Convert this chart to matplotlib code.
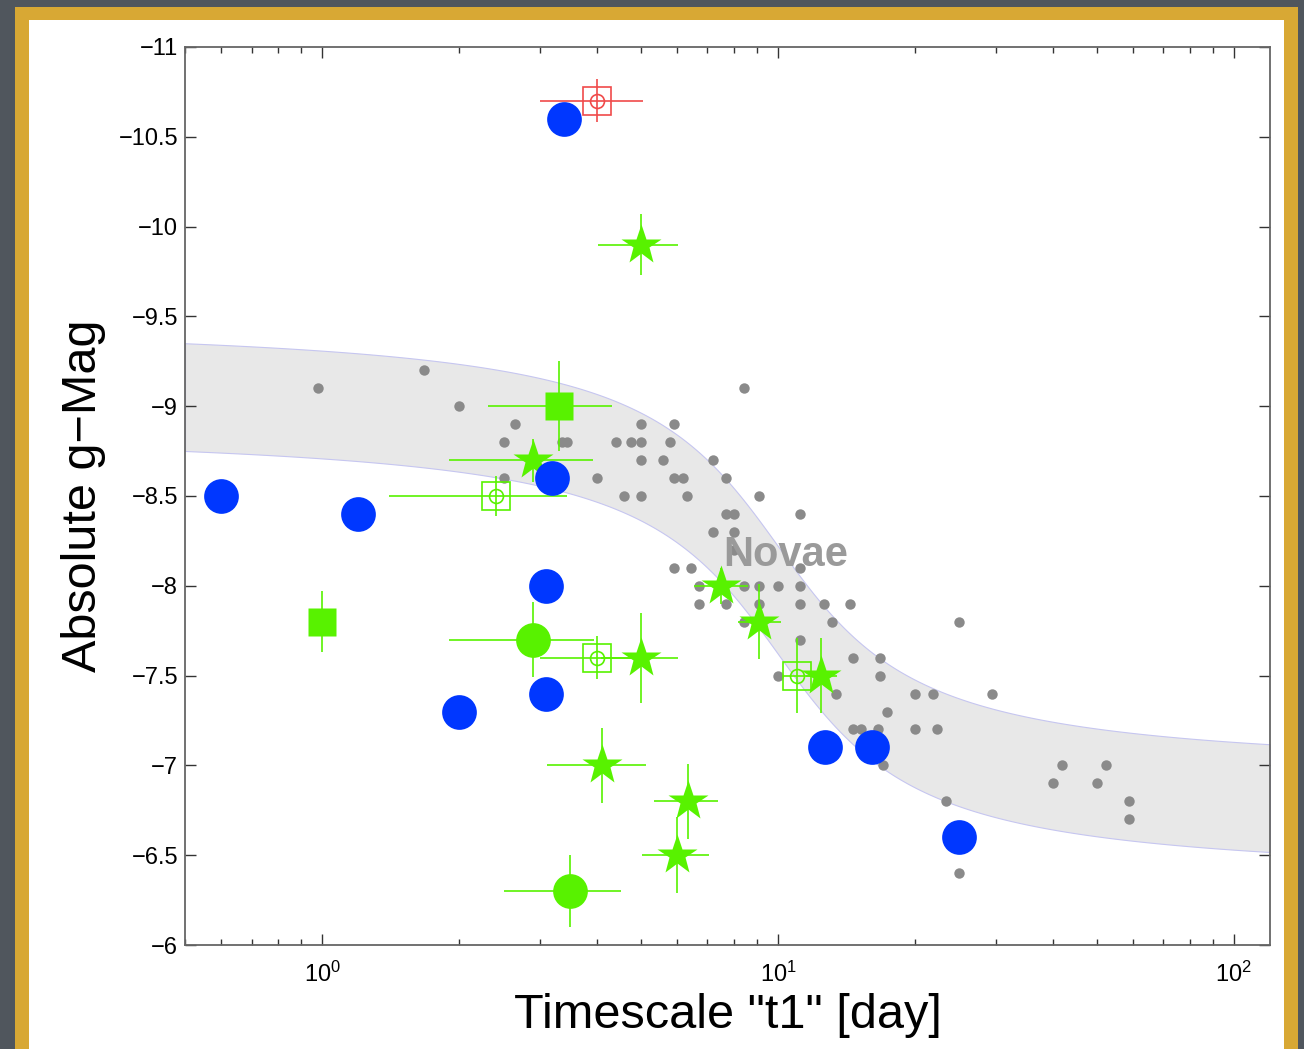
import numpy as np
import matplotlib
matplotlib.use("Agg")
import matplotlib.pyplot as plt
from matplotlib.patches import Rectangle
from matplotlib.ticker import LogLocator, FixedLocator, FixedFormatter, NullFormatter

plt.rcParams['font.family'] = ['Liberation Sans', 'DejaVu Sans']
plt.rcParams['mathtext.fontset'] = 'custom'
plt.rcParams['mathtext.rm'] = 'Liberation Sans'
plt.rcParams['mathtext.it'] = 'Liberation Sans:italic'
plt.rcParams['mathtext.bf'] = 'Liberation Sans:bold'

# ---------------- data ----------------
# MMRD-like relation band (centre +- half width)
band_a, band_b, band_c, band_d, band_half = -7.92, 0.81, 1.0, 0.23, 0.3

# Galactic/M31 novae (grey dots)
nova_t = [0.98, 8.4, 1.67, 2.0, 2.65, 5.0, 5.9,
          2.5, 3.35, 3.45, 4.4, 4.75, 5.0, 5.8,
          5.0, 5.6, 7.2,
          2.5, 4.0, 5.9, 6.2, 7.7,
          4.6, 5.0, 6.3, 9.1,
          7.7, 8.0, 11.2,
          7.2, 8.0, 8.0,
          5.9, 6.45, 11.2,
          6.7, 8.4, 9.1, 10.0, 11.2,
          6.7, 7.7, 9.1, 11.2, 12.6, 14.4,
          8.4, 13.1, 25.0,
          11.2,
          14.6, 16.7,
          10.0, 16.7,
          13.4, 20.0, 21.9, 29.5,
          17.3,
          14.6, 15.2, 16.6, 20.0, 22.3,
          17.0, 42.0, 52.5,
          40.0, 50.0,
          23.4, 59.0,
          59.0,
          25.0]
nova_m = [-9.1, -9.1, -9.2, -9.0, -8.9, -8.9, -8.9,
          -8.8, -8.8, -8.8, -8.8, -8.8, -8.8, -8.8,
          -8.7, -8.7, -8.7,
          -8.6, -8.6, -8.6, -8.6, -8.6,
          -8.5, -8.5, -8.5, -8.5,
          -8.4, -8.4, -8.4,
          -8.3, -8.3, -8.2,
          -8.1, -8.1, -8.1,
          -8.0, -8.0, -8.0, -8.0, -8.0,
          -7.9, -7.9, -7.9, -7.9, -7.9, -7.9,
          -7.8, -7.8, -7.8,
          -7.7,
          -7.6, -7.6,
          -7.5, -7.5,
          -7.4, -7.4, -7.4, -7.4,
          -7.3,
          -7.2, -7.2, -7.2, -7.2, -7.2,
          -7.0, -7.0, -7.0,
          -6.9, -6.9,
          -6.8, -6.8,
          -6.7,
          -6.4]

# Blue filled circles
blue_t = [3.4, 0.6, 1.2, 3.2, 3.1, 2.0, 3.1, 12.7, 16.1, 25.0]
blue_m = [-10.6, -8.5, -8.4, -8.6, -8.0, -7.3, -7.4, -7.1, -7.1, -6.6]

# Green stars
star_t = [5.0, 2.9, 7.5, 9.1, 12.4, 5.0, 4.1, 6.35, 6.0]
star_m = [-9.9, -8.7, -8.0, -7.8, -7.5, -7.6, -7.0, -6.8, -6.5]
star_tlo = [4.03, 1.90, 6.55, 8.17, 11.5, 4.09, 3.11, 5.34, 5.03]
star_thi = [6.04, 3.93, 8.58, 10.15, 13.5, 6.04, 5.13, 7.40, 7.06]
star_merr = [0.17, 0.12, 0.10, 0.21, 0.21, 0.25, 0.21, 0.21, 0.21]

# Green filled squares
sq_t = [3.3, 1.0]
sq_m = [-9.0, -7.8]
sq_tlo = [2.31, 1.0]
sq_thi = [4.33, 1.0]
sq_merr = [0.25, 0.17]

# Green filled circles
gc_t = [2.9, 3.5]
gc_m = [-7.7, -6.3]
gc_tlo = [1.90, 2.51]
gc_thi = [3.95, 4.52]
gc_merr = [0.21, 0.20]

# Green open square+circle
go_t = [2.4, 4.0, 11.0]
go_m = [-8.5, -7.6, -7.5]
go_tlo = [1.40, 3.0, 10.2]
go_thi = [3.45, 5.1, 12.0]
go_merr = [0.11, 0.12, 0.21]

# Red open square+circle
ro_t = [4.0]
ro_m = [-10.7]
ro_tlo = [3.0]
ro_thi = [5.06]
ro_merr = [0.12]

yticks = [-11, -10.5, -10, -9.5, -9, -8.5, -8, -7.5, -7, -6.5, -6]
ytick_labels = ['{:g}'.format(v).replace('-', '\u2212') for v in yticks]

# ---------------- figure / frame ----------------
W, H = 1304, 1049
fig = plt.figure(figsize=(W / 100, H / 100), dpi=100)
fig.patch.set_facecolor('#50565d')


def px_rect(x0, y0, x1, y1, color):
    fig.add_artist(Rectangle((x0 / W, 1 - y1 / H), (x1 - x0) / W, (y1 - y0) / H,
                             transform=fig.transFigure, facecolor=color,
                             edgecolor='none', zorder=-10))


px_rect(15, 7, 1298, H + 5, '#d8a834')
px_rect(29, 20, 1284, H + 5, 'white')

ax = fig.add_axes([185 / W, 1 - 945 / H, (1270 - 185) / W, (945 - 47) / H])
ax.set_facecolor('white')
ax.set_xscale('log')
ax.set_xlim(0.5, 120)
ax.set_ylim(-6, -11)

green = '#58f200'
blue = '#0037ff'
red = '#f04a4a'

# band
tt = np.logspace(np.log10(0.5), np.log10(120), 400)
centre = band_a - band_b * np.arctan((band_c - np.log10(tt)) / band_d)
ax.fill_between(tt, centre - band_half, centre + band_half, facecolor='#e8e8e8',
                edgecolor='#c6c6f0', linewidth=0.8, zorder=1)

# grey novae
ax.plot(nova_t, nova_m, 'o', color='#8a8a8a', ms=7.5, mec='none', zorder=2)

ax.text(10.4, -8.17, 'Novae', fontsize=30, fontweight='bold', color='#9a9a9a',
        ha='center', va='center', zorder=3)


def errs(t, lo, hi):
    t = np.array(t); lo = np.array(lo); hi = np.array(hi)
    return [t - lo, hi - t]


elw = 1.2
# red
ax.errorbar(ro_t, ro_m, xerr=errs(ro_t, ro_tlo, ro_thi), yerr=ro_merr, fmt='none',
            ecolor=red, elinewidth=elw, capsize=0, zorder=4)
ax.plot(ro_t, ro_m, 's', ms=20, mfc='none', mec=red, mew=1.2, zorder=5)
ax.plot(ro_t, ro_m, 'o', ms=10, mfc='none', mec=red, mew=1.2, zorder=5)

# green open
ax.errorbar(go_t, go_m, xerr=errs(go_t, go_tlo, go_thi), yerr=go_merr, fmt='none',
            ecolor=green, elinewidth=elw, capsize=0, zorder=4)
ax.plot(go_t, go_m, 's', ms=20, mfc='none', mec=green, mew=1.2, zorder=5)
ax.plot(go_t, go_m, 'o', ms=10, mfc='none', mec=green, mew=1.2, zorder=5)

# green stars
ax.errorbar(star_t, star_m, xerr=errs(star_t, star_tlo, star_thi), yerr=star_merr,
            fmt='none', ecolor=green, elinewidth=elw, capsize=0, zorder=4)
ax.plot(star_t, star_m, '*', ms=30, color=green, mec='none', zorder=5)

# green squares
ax.errorbar(sq_t, sq_m, xerr=errs(sq_t, sq_tlo, sq_thi), yerr=sq_merr,
            fmt='none', ecolor=green, elinewidth=elw, capsize=0, zorder=4)
ax.plot(sq_t, sq_m, 's', ms=19.5, color=green, mec='none', zorder=5)

# green circles
ax.errorbar(gc_t, gc_m, xerr=errs(gc_t, gc_tlo, gc_thi), yerr=gc_merr,
            fmt='none', ecolor=green, elinewidth=elw, capsize=0, zorder=4)
ax.plot(gc_t, gc_m, 'o', ms=25, color=green, mec='none', zorder=5)

# blue circles
ax.plot(blue_t, blue_m, 'o', ms=25, color=blue, mec='none', zorder=6)

# axes styling
ax.yaxis.set_major_locator(FixedLocator(yticks))
ax.yaxis.set_major_formatter(FixedFormatter(ytick_labels))
ax.xaxis.set_major_locator(LogLocator(base=10, numticks=10))
ax.xaxis.set_minor_locator(LogLocator(base=10, subs=np.arange(2, 10), numticks=20))
ax.xaxis.set_minor_formatter(NullFormatter())
ax.tick_params(which='both', direction='in', top=True, right=True, colors='#333333',
               labelcolor='black')
ax.tick_params(which='major', length=8, width=1.0)
ax.tick_params(which='minor', length=4.5, width=1.0)
ax.tick_params(axis='y', pad=5, labelsize=17)
ax.tick_params(axis='x', pad=12, labelsize=17)
for s in ax.spines.values():
    s.set_color('#666666')
    s.set_linewidth(1.3)

ax.set_xlabel('Timescale "t1" [day]', fontsize=35, va='baseline')
ax.xaxis.set_label_coords(0.5, (945 - 1028) / 898)
ax.set_ylabel('Absolute g\u2212Mag', fontsize=35, rotation=90, rotation_mode='anchor',
              ha='center', va='baseline')
ax.yaxis.set_label_coords((96 - 185) / 1085, 0.5)

fig.savefig('out.png', dpi=100, facecolor=fig.get_facecolor())
